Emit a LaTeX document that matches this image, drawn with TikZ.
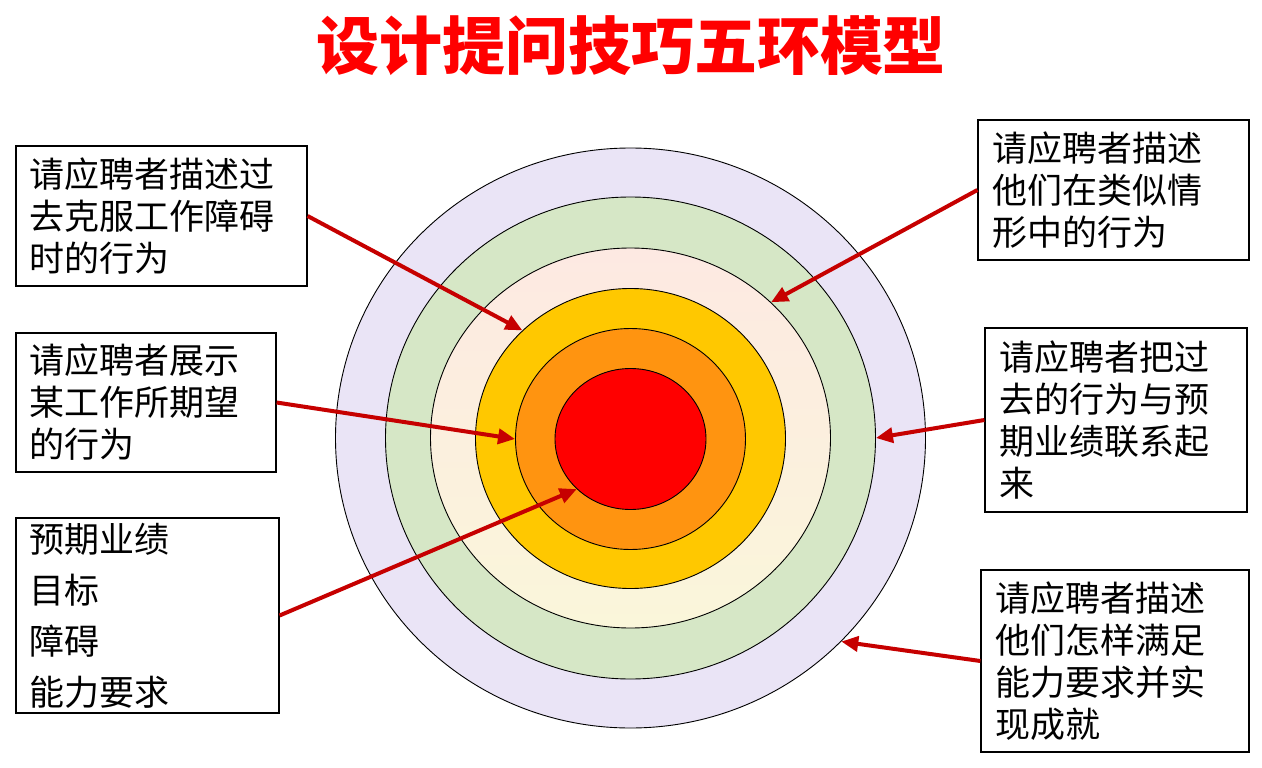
\documentclass[tikz,border=0pt]{standalone}
\usepackage{fontspec}
\newfontfamily\cjk{Noto Sans CJK SC}
\usepackage{tikz}
\usetikzlibrary{arrows.meta, shapes.geometric, positioning}
\usepackage{xcolor}
\definecolor{ringlilac}{RGB}{234,228,246}
\definecolor{ringgreen}{RGB}{214,231,198}
\definecolor{ringpink}{RGB}{253,233,226}
\definecolor{ringcream}{RGB}{250,246,218}
\definecolor{ringgold}{RGB}{255,200,0}
\definecolor{ringorange}{RGB}{255,148,16}
\definecolor{ringred}{RGB}{255,0,0}
\definecolor{arrowred}{RGB}{198,0,0}
\tikzset{
  ring/.style={
    ellipse, draw=black, line width=0.9pt, inner sep=0pt
  },
  askbox/.style={
    rectangle, draw=black, line width=1.2pt, fill=white,
    align=left, inner xsep=14pt, inner ysep=0pt,
    font=\cjk\fontsize{35}{42}\selectfont
  },
  pointer/.style={
    -{Triangle[length=17pt,width=15pt]}, line width=4pt, draw=arrowred
  },
  headline/.style={
    font=\cjk\bfseries\fontsize{63}{70}\selectfont, text=ringred
  }
}

\begin{document}
\begin{tikzpicture}[x=1pt, y=-1pt]

\path[fill=white] (0,0) rectangle (1262,768);
\useasboundingbox (0,0) rectangle (1262,768);

% Title
\node[headline] (title) at (631,46) {设计提问技巧五环模型};

% Five rings, outer to inner
\node[ring, fill=ringlilac, minimum width=590pt, minimum height=580pt]
  (outer) at (630.5,438) {};
\node[ring, fill=ringgreen, minimum width=490pt, minimum height=482pt]
  (green) at (630.5,438) {};
\node[ring, top color=ringpink, bottom color=ringcream,
      minimum width=400pt, minimum height=380pt]
  (cream) at (630.5,438) {};
\node[ring, fill=ringgold, minimum width=310pt, minimum height=300pt]
  (yellow) at (630.5,438.5) {};
\node[ring, fill=ringorange, minimum width=230pt, minimum height=221pt]
  (orange) at (630.5,439) {};
\node[ring, fill=ringred, minimum width=151pt, minimum height=141pt]
  (core) at (630.5,439) {};

% Left boxes
\node[askbox, text width=263pt, minimum height=140pt] (b1) at (161.5,216)
  {请应聘者描述过\\去克服工作障碍\\时的行为};
\node[askbox, text width=232pt, minimum height=139pt] (b2) at (146,402.5)
  {请应聘者展示\\某工作所期望\\的行为};
\node[askbox, text width=235pt, minimum height=195pt,
      font=\cjk\fontsize{35}{51}\selectfont] (b3) at (147.5,615.5)
  {预期业绩\\目标\\障碍\\能力要求};

% Right boxes
\node[askbox, text width=243pt, minimum height=140pt] (b4) at (1113.5,190)
  {请应聘者描述\\他们在类似情\\形中的行为};
\node[askbox, text width=234pt, minimum height=184pt] (b5) at (1116,420)
  {请应聘者把过\\去的行为与预\\期业绩联系起\\来};
\node[askbox, text width=240pt, minimum height=182pt] (b6) at (1115,661)
  {请应聘者描述\\他们怎样满足\\能力要求并实\\现成就};

% Arrows
\draw[pointer] (b1.east) -- (yellow.135);
\draw[pointer] (b2.east) -- (orange.180);
\draw[pointer] (b3.east) -- (core.223);
\draw[pointer] (b4.west) -- (cream.44);
\draw[pointer] (b5.west) -- (green.0);
\draw[pointer] (b6.west) -- (outer.316);

\end{tikzpicture}
\end{document}
